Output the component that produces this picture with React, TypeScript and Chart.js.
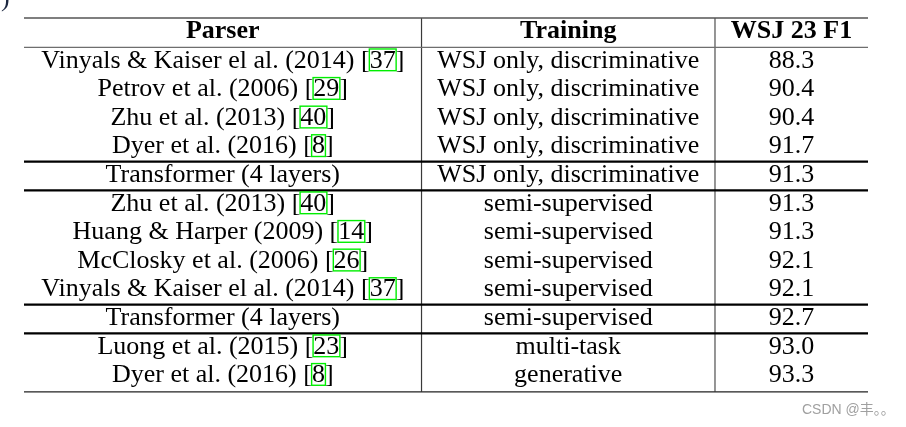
import React, { useEffect, useRef } from "react";
import Chart from "chart.js/auto";

const headers = ["Parser", "Training", "WSJ 23 F1"];
const parsers = [
  "Vinyals & Kaiser el al. (2014)",
  "Petrov et al. (2006)",
  "Zhu et al. (2013)",
  "Dyer et al. (2016)",
  "Transformer (4 layers)",
  "Zhu et al. (2013)",
  "Huang & Harper (2009)",
  "McClosky et al. (2006)",
  "Vinyals & Kaiser el al. (2014)",
  "Transformer (4 layers)",
  "Luong et al. (2015)",
  "Dyer et al. (2016)",
];
const refs = ["37", "29", "40", "8", "", "40", "14", "26", "37", "", "23", "8"];
const trainings = [
  "WSJ only, discriminative",
  "WSJ only, discriminative",
  "WSJ only, discriminative",
  "WSJ only, discriminative",
  "WSJ only, discriminative",
  "semi-supervised",
  "semi-supervised",
  "semi-supervised",
  "semi-supervised",
  "semi-supervised",
  "multi-task",
  "generative",
];
const f1 = [88.3, 90.4, 90.4, 91.7, 91.3, 91.3, 91.3, 92.1, 92.1, 92.7, 93.0, 93.3];
const thickRows = [4, 5, 9, 10];

// layout (in scale units)
const HEADER_H = 1.024;
const Y_MAX = 13.07;
const COL_EDGES = [0, 0.471, 0.8187, 1];
const SERIF = '"Liberation Serif", "Times New Roman", serif';
const FS = 26;

const rowTop = (i: number) => HEADER_H + i;
const colCenter = (c: number) => (COL_EDGES[c] + COL_EDGES[c + 1]) / 2;

const tablePlugin = {
  id: "tablePlugin",
  afterDraw(chart: any) {
    const ctx = chart.ctx as CanvasRenderingContext2D;
    const xs = chart.scales.x;
    const ys = chart.scales.y;
    const px = (v: number) => xs.getPixelForValue(v);
    const py = (v: number) => ys.getPixelForValue(v);
    const unit = Math.abs(py(1) - py(0));
    const baseOff = unit * 0.713;
    ctx.save();

    // stray glyph at top-left
    ctx.fillStyle = "#1c2740";
    ctx.font = `${FS}px ${SERIF}`;
    ctx.textAlign = "left";
    ctx.textBaseline = "alphabetic";
    ctx.fillText(")", 1, 5.5);

    const hline = (yv: number, w: number, color: string) => {
      ctx.beginPath();
      ctx.strokeStyle = color;
      ctx.lineWidth = w;
      ctx.moveTo(px(0), py(yv));
      ctx.lineTo(px(1), py(yv));
      ctx.stroke();
    };
    const vline = (xv: number, w: number, color: string) => {
      ctx.beginPath();
      ctx.strokeStyle = color;
      ctx.lineWidth = w;
      ctx.moveTo(px(xv), py(0));
      ctx.lineTo(px(xv), py(Y_MAX));
      ctx.stroke();
    };

    vline(COL_EDGES[1], 1.2, "#3a3a3a");
    vline(COL_EDGES[2], 1.8, "#8a8a8a");
    hline(0, 1.3, "#555555");
    hline(HEADER_H, 1.3, "#6e6e6e");
    thickRows.forEach((r) => hline(rowTop(r), 2.2, "#000000"));
    hline(Y_MAX, 1.2, "#222222");

    // header
    ctx.fillStyle = "#000";
    ctx.textAlign = "center";
    ctx.font = `bold ${FS}px ${SERIF}`;
    headers.forEach((h, c) => {
      ctx.fillText(h, px(colCenter(c)), py(0) + baseOff);
    });

    // body
    ctx.font = `${FS}px ${SERIF}`;
    parsers.forEach((p, i) => {
      const base = py(rowTop(i)) + baseOff;
      const ref = refs[i];
      const full = ref ? `${p} [${ref}]` : p;
      const w = ctx.measureText(full).width;
      const x0 = px(colCenter(0)) - w / 2;
      ctx.textAlign = "left";
      ctx.fillStyle = "#000";
      ctx.fillText(full, x0, base);
      if (ref) {
        const rx = x0 + ctx.measureText(`${p} [`).width;
        const rw = ctx.measureText(ref).width;
        ctx.strokeStyle = "#00ee00";
        ctx.lineWidth = 1.4;
        ctx.strokeRect(rx - 0.3, base - 18.7, rw + 0.8, 21.7);
      }
      ctx.textAlign = "center";
      ctx.fillText(trainings[i], px(colCenter(1)), base);
      ctx.fillText(f1[i].toFixed(1), px(colCenter(2)), base);
    });

    // watermark
    ctx.fillStyle = "#a0a0a0";
    ctx.textAlign = "left";
    ctx.font = `14px "Liberation Sans", "Noto Sans CJK SC", sans-serif`;
    ctx.fillText("CSDN @丰。。", 802, 414);

    ctx.restore();
  },
};

export default function App() {
  const ref = useRef<HTMLCanvasElement | null>(null);
  useEffect(() => {
    if (!ref.current) return;
    const chart = new Chart(ref.current, {
      type: "scatter",
      data: {
        datasets: [
          {
            label: "WSJ 23 F1",
            data: f1.map((_, i) => ({ x: colCenter(2), y: rowTop(i) + 0.5 })),
            pointRadius: 0,
            pointHoverRadius: 0,
          },
        ],
      },
      options: {
        responsive: false,
        animation: false,
        events: [],
        layout: { padding: { left: 24, right: 38, top: 18, bottom: 427 - 391.8 } },
        plugins: { legend: { display: false }, tooltip: { enabled: false } },
        scales: {
          x: { type: "linear", min: 0, max: 1, display: false },
          y: { type: "linear", min: 0, max: Y_MAX, reverse: true, display: false },
        },
      },
      plugins: [tablePlugin],
    });
    return () => chart.destroy();
  }, []);
  return (
    <div style={{ position: "fixed", left: 0, top: 0, width: 906, height: 427, background: "#fff" }}>
      <canvas ref={ref} width={906} height={427} style={{ display: "block", width: 906, height: 427 }} />
    </div>
  );
}
